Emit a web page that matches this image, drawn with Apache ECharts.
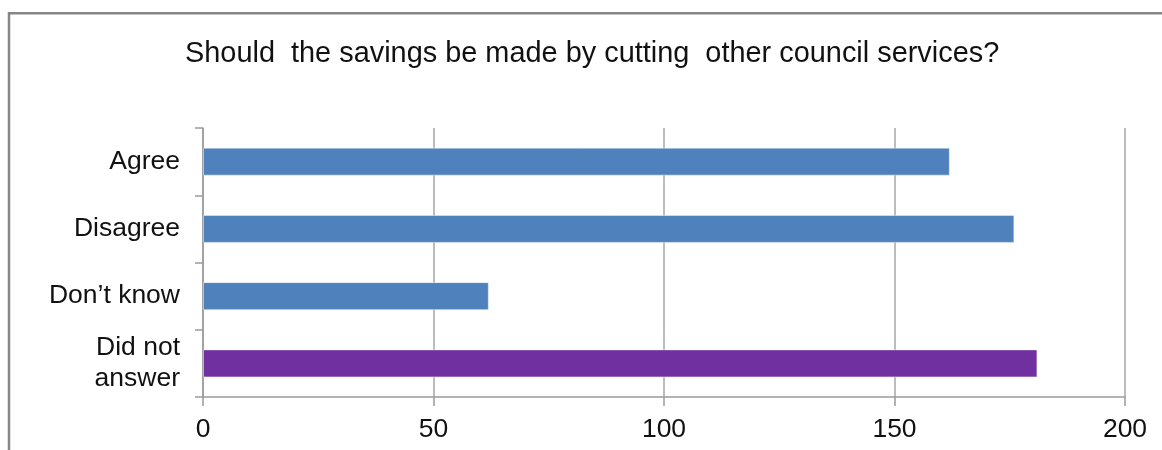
<!DOCTYPE html>
<html>
<head>
<meta charset="utf-8">
<script src="https://cdn.jsdelivr.net/npm/echarts@6/dist/echarts.min.js"></script>
<style>
  html, body { margin: 0; padding: 0; background: #fff; }
  #chart { width: 1162px; height: 450px; }
</style>
</head>
<body>
<div id="chart"></div>
<script>
// Survey responses: count of answers per option
const categories = ['Agree', 'Disagree', 'Don\u2019t know', 'Did not\nanswer'];
const responses = [162, 176, 62, 181];
const barColors = ['#4F81BD', '#4F81BD', '#4F81BD', '#7030A0'];
const xTicks = [0, 50, 100, 150, 200];

const FONT = '"Liberation Sans", Arial, sans-serif';

const chart = echarts.init(document.getElementById('chart'), null, { renderer: 'canvas' });

chart.setOption({
  backgroundColor: '#fff',
  animation: false,
  title: {
    text: 'Should  the savings be made by cutting  other council services?',
    left: 180,
    top: 35,
    textStyle: { fontFamily: FONT, fontSize: 28.9, fontWeight: 'normal', color: '#111' }
  },
  graphic: [{
    type: 'rect',
    silent: true,
    shape: { x: 9, y: 13.3, width: 1300, height: 600 },
    style: { fill: 'none', stroke: '#868686', lineWidth: 2.5 }
  }],
  grid: { left: 203, right: 37, top: 128, bottom: 53, containLabel: false },
  xAxis: {
    type: 'value',
    min: xTicks[0],
    max: xTicks[xTicks.length - 1],
    interval: xTicks[1] - xTicks[0],
    axisLine: { show: true, lineStyle: { color: '#9A9A9A', width: 1.5 } },
    axisTick: { show: true, length: 9, lineStyle: { color: '#9A9A9A', width: 1.5 } },
    splitLine: { show: true, lineStyle: { color: '#A6A6A6', width: 1.5 } },
    axisLabel: { fontFamily: FONT, fontSize: 26.5, color: '#111', margin: 19 }
  },
  yAxis: {
    type: 'category',
    data: categories,
    inverse: true,
    axisLine: { show: true, lineStyle: { color: '#9A9A9A', width: 1.5 } },
    axisTick: { show: true, length: 8, lineStyle: { color: '#9A9A9A', width: 1.5 } },
    axisLabel: {
      fontFamily: FONT, fontSize: 26.5, color: '#111', margin: 23,
      lineHeight: 31, align: 'right', padding: [3, 0, 0, 0]
    }
  },
  series: [{
    type: 'bar',
    data: responses.map((v, i) => ({ value: v, itemStyle: { color: barColors[i] } })),
    barWidth: 28,
    itemStyle: { borderColor: 'rgba(255,255,255,0.45)', borderWidth: 1 }
  }]
});
</script>
</body>
</html>
